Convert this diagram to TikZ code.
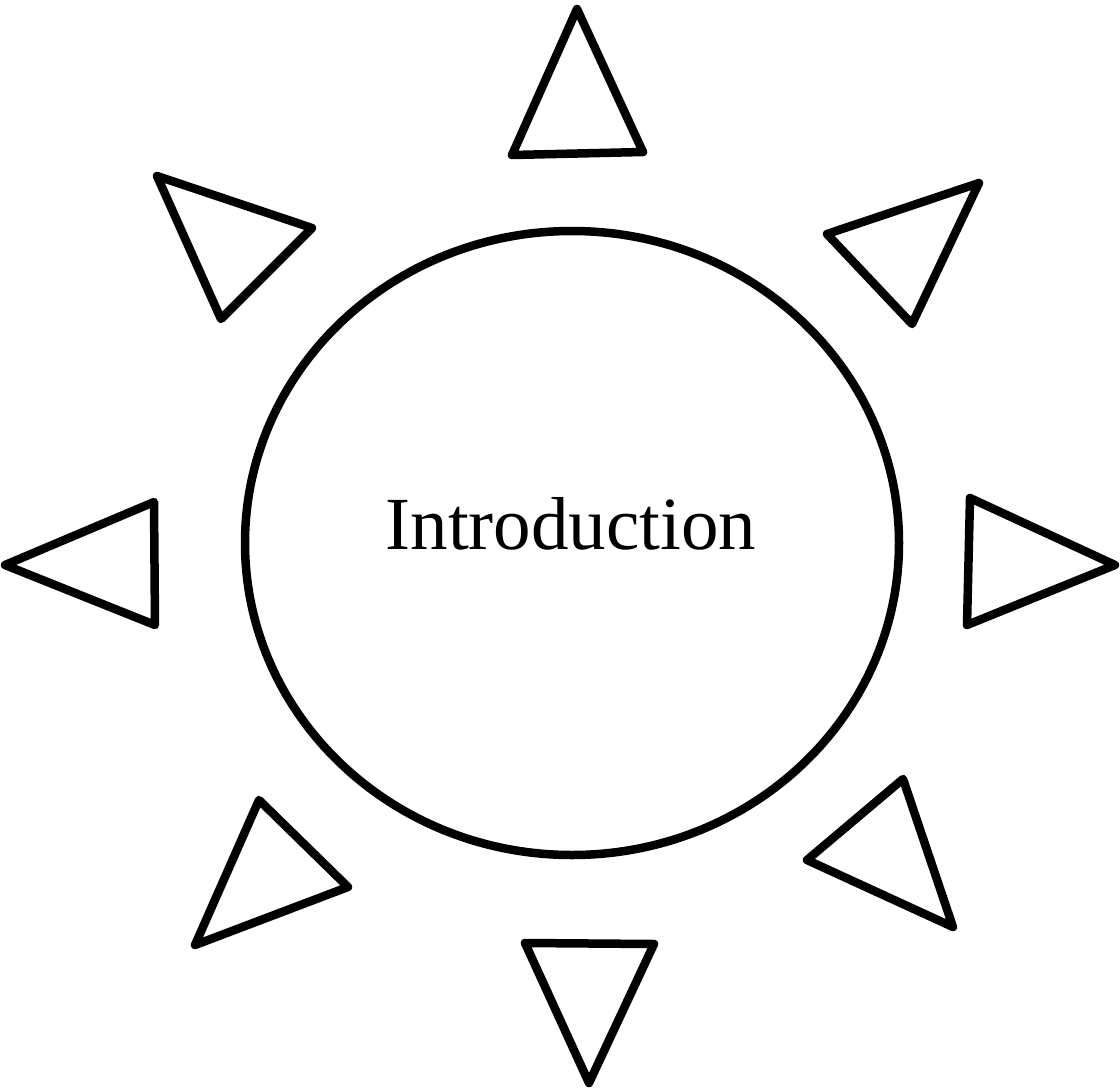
\documentclass[tikz,border=0pt]{standalone}
\usepackage{fontspec}
\setmainfont{Liberation Serif}
\begin{document}
\begin{tikzpicture}[x=1pt,y=-1pt,
  tri/.style={draw=black,line width=8.5pt,line join=round,line cap=round},
  ring/.style={draw=black,line width=8.5pt}]
\useasboundingbox (0,0) rectangle (1120,1090);
\draw[ring] (572,543) ellipse [x radius=327, y radius=312];
\node[font=\fontsize{75}{80}\selectfont,inner sep=0pt] (intro) at (571,524) {Introduction};
% triangles
\draw[tri] (577,9) -- (512,155) -- (643,152) -- cycle;
\draw[tri] (157,176) -- (312,228) -- (221,319) -- cycle;
\draw[tri] (979,183) -- (827,234) -- (912,324) -- cycle;
\draw[tri] (5,565) -- (154,502) -- (155,625) -- cycle;
\draw[tri] (970,498) -- (1115,565) -- (967,625) -- cycle;
\draw[tri] (259,800) -- (348,887) -- (195,945) -- cycle;
\draw[tri] (903,779) -- (807,860) -- (953,927) -- cycle;
\draw[tri] (525,943) -- (654,944) -- (589,1083) -- cycle;
\end{tikzpicture}
\end{document}
